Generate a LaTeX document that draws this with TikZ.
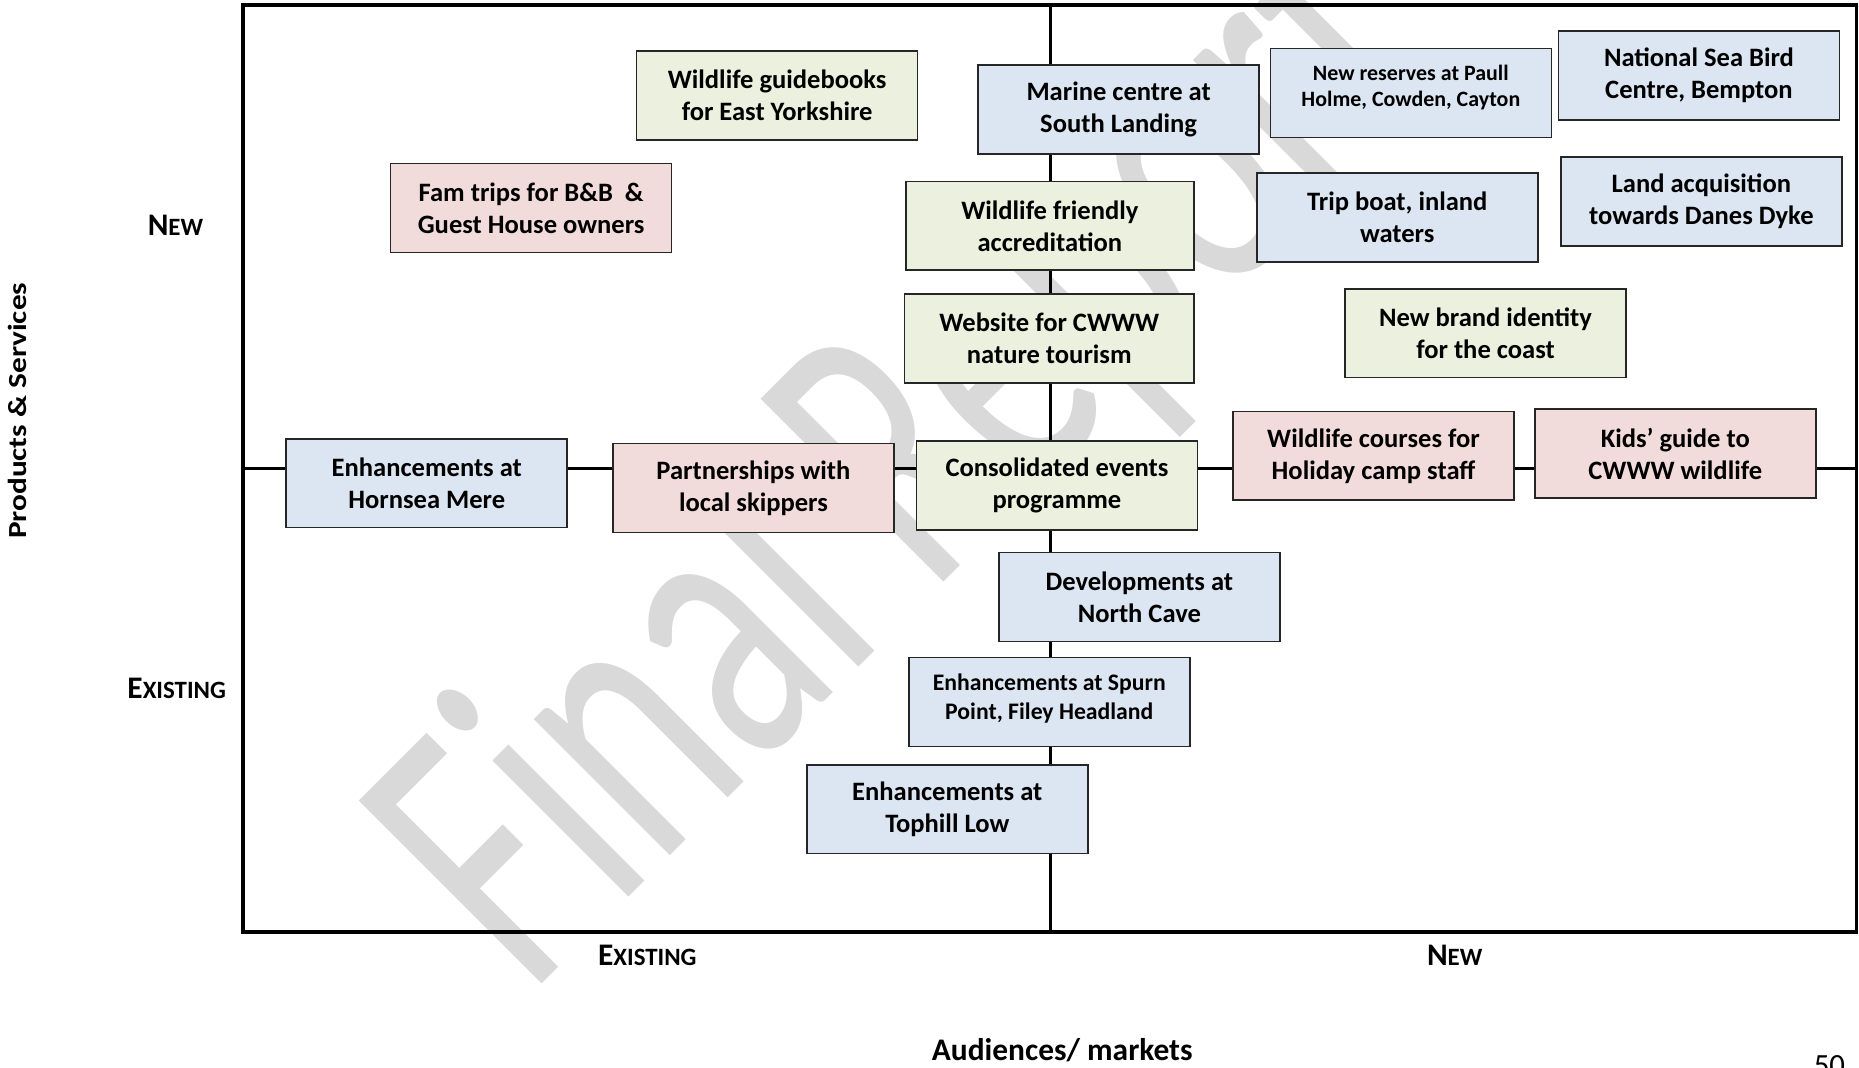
\documentclass[tikz,border=0pt]{standalone}
\usepackage{fontspec}
\setmainfont{Carlito}
\usepackage{tikz}

\definecolor{boxblue}{HTML}{DCE6F2}
\definecolor{boxgreen}{HTML}{EBF1DE}
\definecolor{boxpink}{HTML}{F2DCDB}
\definecolor{wmgray}{HTML}{D9D9D9}
\newcommand{\smcapword}[2]{#1{\fontsize{21}{20}\selectfont #2}}

\begin{document}
\begin{tikzpicture}[x=1pt,y=-1pt,
        every node/.style={font=\bfseries\fontsize{26.5}{30}\selectfont},
        box/.style={draw=black!85,line width=1.4pt,minimum width=237pt,minimum height=75pt,
                inner sep=0pt,align=center,font=\bfseries\fontsize{22.4}{27}\selectfont},
        blue/.style={box,fill=boxblue},
        green/.style={box,fill=boxgreen},
        pink/.style={box,fill=boxpink},
        small/.style={font=\bfseries\fontsize{18.5}{22}\selectfont}]
        \useasboundingbox (0,0) rectangle (1568,900);
        % watermark
        \begin{scope}
                \clip (0,0) rectangle (1568,900);
                \node[rotate=45,anchor=base west,text=wmgray,font=\fontsize{340}{340}\selectfont] (wm) at (444,843) {\scalebox{0.655}[1]{Final Report}};
        \end{scope}
        % axes
        \coordinate (tl) at (205,4);
        \coordinate (br) at (1566,786);
        \coordinate (ml) at (205,395);
        \coordinate (mr) at (1566,395);
        \coordinate (mt) at (886,4);
        \coordinate (mb) at (886,786);
        \draw[line width=3pt] (ml) -- (mr);
        \draw[line width=2.4pt] (mt) -- (mb);
        \draw[line width=3pt] (tl) rectangle (br);
        % boxes
        \node[green] (guide) at (655.5,80.5) {Wildlife guidebooks\\for East Yorkshire};
        \node[pink] (famtrip) at (448,175.5) {Fam trips for B\&B~ \&\\Guest House owners};
        \node[blue] (marine) at (943.5,92.5) {Marine centre at\\South Landing};
        \node[blue,small] (reserves) at (1190,78.5) {New reserves at Paull\\Holme, Cowden, Cayton\rule[-12pt]{0pt}{0pt}};
        \node[blue] (seabird) at (1433,63.5) {National Sea Bird\\Centre, Bempton};
        \node[green,minimum width=243pt] (friendly) at (885.5,190.5) {Wildlife friendly\\accreditation};
        \node[blue] (tripboat) at (1178.5,183.5) {Trip boat, inland\\waters};
        \node[blue] (land) at (1435,170) {Land acquisition\\towards Danes Dyke};
        \node[green,minimum width=244pt] (website) at (885,285.5) {Website for CWWW\\nature tourism};
        \node[green] (brand) at (1253,281) {New brand identity\\for the coast};
        \node[blue] (hornsea) at (360,407.5) {Enhancements at\\Hornsea Mere};
        \node[pink] (skippers) at (635.5,411.5) {Partnerships with\\local skippers};
        \node[green] (events) at (891.5,409.5) {Consolidated events\\programme};
        \node[pink] (courses) at (1158.5,384.5) {Wildlife courses for\\Holiday camp staff};
        \node[pink] (kids) at (1413,382.5) {Kids’ guide to\\CWWW wildlife};
        \node[blue] (northcave) at (961,503.5) {Developments at\\North Cave};
        \node[blue,font=\bfseries\fontsize{20}{25}\selectfont] (spurn) at (885,592) {Enhancements at Spurn\\Point, Filey Headland\rule[-9pt]{0pt}{0pt}};
        \node[blue] (tophill) at (799,682.5) {Enhancements at\\Tophill Low};
        % labels
        \node (ynew) at (148,190) {\smcapword{N}{EW}};
        \node (yold) at (149,581) {\smcapword{E}{XISTING}};
        \node (xold) at (546,806) {\smcapword{E}{XISTING}};
        \node (xnew) at (1227,806) {\smcapword{N}{EW}};
        \node (xlabel) at (896,886) {Audiences/ markets};
        \node[rotate=90,font=\bfseries\fontsize{22}{26}\selectfont] (ylabel) at (15,346.5) {\scalebox{1.2}[1]{Products \& Services}};
        \node[anchor=north,font=\fontsize{26}{30}\selectfont] (page) at (1543,887) {50};
\end{tikzpicture}
\end{document}
